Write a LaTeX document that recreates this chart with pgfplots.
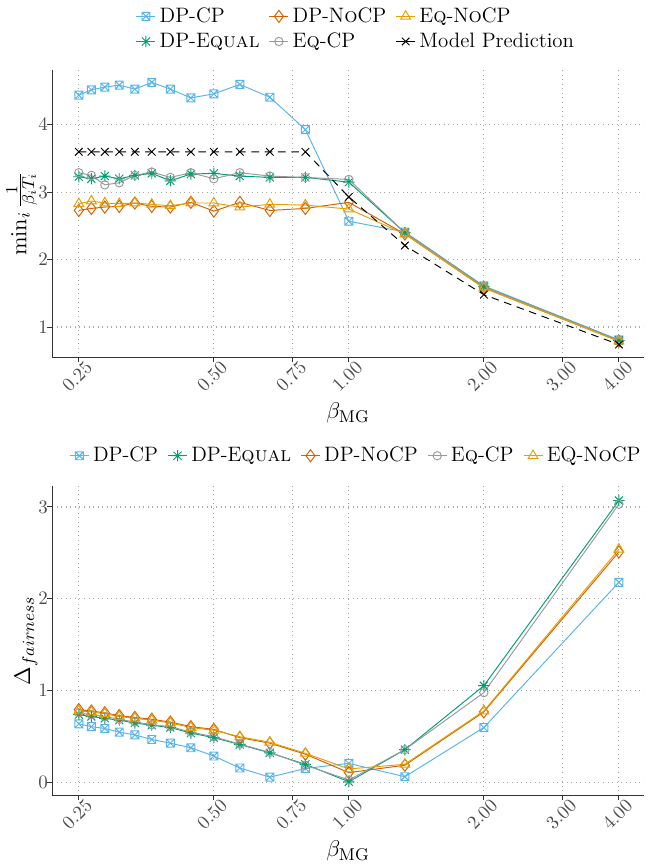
\documentclass[border=0pt]{standalone}
\usepackage{pgfplots}
\pgfplotsset{compat=1.18}
\usetikzlibrary{plotmarks}

\definecolor{cpblue}{HTML}{56B4E9}
\definecolor{eqgreen}{HTML}{009E73}
\definecolor{nocporange}{HTML}{D55E00}
\definecolor{cpgray}{HTML}{999999}
\definecolor{eqyellow}{HTML}{E69F00}
\definecolor{axgray}{HTML}{4D4D4D}

% square with a cross inside (ggplot shape 7)
\pgfdeclareplotmark{boxx}{%
  \pgfpathrectangle{\pgfpoint{-\pgfplotmarksize}{-\pgfplotmarksize}}%
    {\pgfpoint{2\pgfplotmarksize}{2\pgfplotmarksize}}%
  \pgfpathmoveto{\pgfpoint{-\pgfplotmarksize}{-\pgfplotmarksize}}%
  \pgfpathlineto{\pgfpoint{\pgfplotmarksize}{\pgfplotmarksize}}%
  \pgfpathmoveto{\pgfpoint{-\pgfplotmarksize}{\pgfplotmarksize}}%
  \pgfpathlineto{\pgfpoint{\pgfplotmarksize}{-\pgfplotmarksize}}%
  \pgfusepathqstroke}
% eight-armed asterisk (ggplot shape 8)
\pgfdeclareplotmark{star8}{%
  \pgfpathmoveto{\pgfpoint{-\pgfplotmarksize}{0pt}}%
  \pgfpathlineto{\pgfpoint{\pgfplotmarksize}{0pt}}%
  \pgfpathmoveto{\pgfpoint{0pt}{-\pgfplotmarksize}}%
  \pgfpathlineto{\pgfpoint{0pt}{\pgfplotmarksize}}%
  \pgfpathmoveto{\pgfpoint{-0.707\pgfplotmarksize}{-0.707\pgfplotmarksize}}%
  \pgfpathlineto{\pgfpoint{0.707\pgfplotmarksize}{0.707\pgfplotmarksize}}%
  \pgfpathmoveto{\pgfpoint{-0.707\pgfplotmarksize}{0.707\pgfplotmarksize}}%
  \pgfpathlineto{\pgfpoint{0.707\pgfplotmarksize}{-0.707\pgfplotmarksize}}%
  \pgfusepathqstroke}

\tikzset{
  sCP/.style={cpblue, line width=0.5pt, mark=boxx, mark size=2.1pt, mark options={solid}},
  sEQUAL/.style={eqgreen, line width=0.5pt, mark=star8, mark size=3.0pt, mark options={solid}},
  sNOCP/.style={nocporange, line width=0.5pt, mark=diamond, mark size=3.2pt, mark options={solid}},
  sEQCP/.style={cpgray, line width=0.5pt, mark=o, mark size=2.2pt, mark options={solid}},
  sEQNOCP/.style={eqyellow, line width=0.5pt, mark=triangle, mark size=3.0pt, mark options={solid}},
  sMODEL/.style={black, line width=0.5pt, dash pattern=on 4pt off 3pt, mark=x, mark size=2.8pt, mark options={solid}},
}

\pgfplotsset{
  mypanel/.style={
    scale only axis, width=312pt,
    xmin=0.218, xmax=4.55,
    xtick={0.25,0.5,0.75,1,2,3,4},
    xticklabels={0.25,0.50,0.75,1.00,2.00,3.00,4.00},
    axis lines=left, axis line style={-, black!80, line width=0.6pt},
    tick align=outside, major tick length=2.5pt,
    tick style={black!80, line width=0.5pt},
    grid=major, grid style={dotted, black!35, line width=0.6pt},
    xticklabel style={xshift=3pt, yshift=3pt, rotate=45, anchor=north east,
      inner sep=1pt, font=\fontsize{10}{11}\selectfont, text=axgray},
    yticklabel style={xshift=2pt, inner sep=1.5pt, font=\fontsize{10}{11}\selectfont, text=axgray},
    xlabel={$\beta_{\mathrm{MG}}$},
    label style={font=\fontsize{12.5}{14}\selectfont},
    ylabel style={yshift=-4.5pt},
    legend cell align=left,
    legend style={draw=none, fill=none, font=\fontsize{11}{12}\selectfont,
      /tikz/every even column/.append style={column sep=3pt}},
    legend image code/.code={\draw[mark repeat=2,mark phase=2]
      plot coordinates {(0pt,0pt)(5pt,0pt)(10pt,0pt)};},
  },
}

\pgfplotstableread{
x        cp    equal nocp  eqcp  eqnocp model
0.25     4.44  3.23  2.73  3.29  2.83   3.60
0.266667 4.52  3.20  2.76  3.25  2.87   3.60
0.285714 4.56  3.24  2.78  3.11  2.84   3.60
0.307692 4.59  3.20  2.79  3.14  2.83   3.60
0.333333 4.53  3.25  2.84  3.25  2.84   3.60
0.363636 4.63  3.28  2.79  3.30  2.82   3.60
0.4      4.53  3.17  2.78  3.22  2.80   3.60
0.444444 4.40  3.27  2.85  3.29  2.84   3.60
0.5      4.46  3.28  2.72  3.20  2.84   3.60
0.571429 4.60  3.24  2.85  3.29  2.78   3.60
0.666667 4.41  3.22  2.73  3.24  2.82   3.60
0.8      3.93  3.22  2.76  3.22  2.81   3.60
1        2.57  3.15  2.85  3.19  2.75   2.93
1.333333 2.41  2.40  2.38  2.40  2.38   2.21
2        1.61  1.60  1.58  1.60  1.58   1.48
4        0.81  0.80  0.79  0.80  0.79   0.74
}\toptable

\pgfplotstableread{
x        cp    equal nocp  eqcp  eqnocp
0.25     0.64  0.74  0.795 0.76  0.78
0.266667 0.61  0.72  0.78  0.74  0.77
0.285714 0.59  0.70  0.76  0.72  0.75
0.307692 0.55  0.68  0.73  0.69  0.72
0.333333 0.52  0.65  0.71  0.66  0.70
0.363636 0.47  0.625 0.69  0.63  0.68
0.4      0.43  0.60  0.66  0.61  0.65
0.444444 0.38  0.54  0.61  0.55  0.60
0.5      0.29  0.49  0.58  0.50  0.57
0.571429 0.16  0.415 0.49  0.42  0.50
0.666667 0.06  0.325 0.43  0.33  0.44
0.8      0.155 0.20  0.31  0.19  0.32
1        0.21  0.01  0.11  0.03  0.15
1.333333 0.065 0.36  0.19  0.36  0.20
2        0.60  1.055 0.77  0.98  0.78
4        2.18  3.07  2.51  3.03  2.54
}\bottable

\begin{document}
\begin{tikzpicture}
% upper panel
\begin{axis}[xmode=log, log basis x=2, mypanel, height=151.9pt,
  ymin=0.544, ymax=4.82, ytick={1,2,3,4},
  ylabel={$\min_i \frac{1}{\beta_i T_i}$},
  legend columns=3,
  legend style={at={(0.515,1)}, anchor=south, yshift=6pt},
]
\addplot[sCP, forget plot] table[x=x, y=cp] {\toptable};
\addplot[sEQUAL, forget plot] table[x=x, y=equal] {\toptable};
\addplot[sNOCP, forget plot] table[x=x, y=nocp] {\toptable};
\addplot[sEQCP, forget plot] table[x=x, y=eqcp] {\toptable};
\addplot[sEQNOCP, forget plot] table[x=x, y=eqnocp] {\toptable};
\addplot[sMODEL, forget plot] table[x=x, y=model] {\toptable};
\addlegendimage{sCP}
\addlegendentry{DP-CP}
\addlegendimage{sNOCP}
\addlegendentry{DP-N\textsc{o}CP}
\addlegendimage{sEQNOCP}
\addlegendentry{E\textsc{q}-N\textsc{o}CP}
\addlegendimage{sEQUAL}
\addlegendentry{DP-E\textsc{qual}}
\addlegendimage{sEQCP}
\addlegendentry{E\textsc{q}-CP}
\addlegendimage{sMODEL, solid}
\addlegendentry{Model Prediction}
\end{axis}

% lower panel
\begin{axis}[xmode=log, log basis x=2, mypanel, at={(0,-230.8pt)}, height=163.3pt,
  ymin=-0.14, ymax=3.23, ytick={0,1,2,3},
  ylabel={$\Delta_{fairness}$},
  legend columns=5,
  legend style={at={(0.515,1)}, anchor=south, yshift=7pt},
]
\addplot[sCP] table[x=x, y=cp] {\bottable};
\addlegendentry{DP-CP}
\addplot[sEQUAL] table[x=x, y=equal] {\bottable};
\addlegendentry{DP-E\textsc{qual}}
\addplot[sNOCP] table[x=x, y=nocp] {\bottable};
\addlegendentry{DP-N\textsc{o}CP}
\addplot[sEQCP] table[x=x, y=eqcp] {\bottable};
\addlegendentry{E\textsc{q}-CP}
\addplot[sEQNOCP] table[x=x, y=eqnocp] {\bottable};
\addlegendentry{EQ-N\textsc{o}CP}
\end{axis}
\end{tikzpicture}
\end{document}
